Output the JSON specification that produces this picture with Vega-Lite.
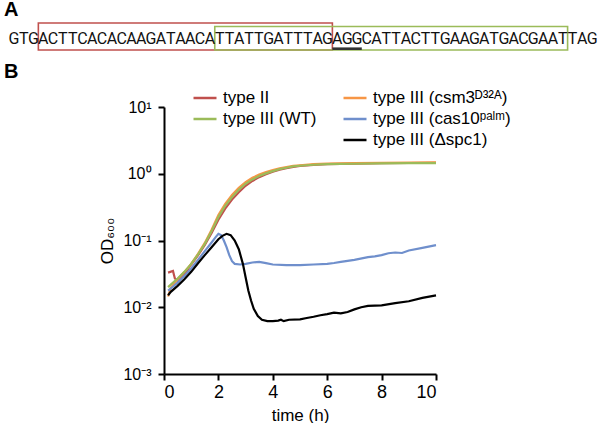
{
  "$schema": "https://vega.github.io/schema/vega-lite/v6.json",
  "background": "white",
  "padding": {"left": 4, "top": 0, "right": 0, "bottom": 0},
  "bounds": "flush",
  "spacing": 57,
  "resolve": {"scale": {"color": "independent"}, "legend": {"color": "independent"}},
  "config": {
    "view": {"stroke": null},
    "font": "Liberation Sans",
    "axis": {"domainColor": "black", "domainWidth": 2, "tickColor": "black", "tickWidth": 2, "tickSize": 6, "labelColor": "black", "labelFontSize": 17, "labelFont": "Liberation Sans", "titleFont": "Liberation Sans", "titleFontSize": 17, "titleFontWeight": "normal", "titleColor": "black", "grid": false, "labelPadding": 3}
  },
  "datasets": {
    "sequence": [
      {"i":0,"ch":"G"},{"i":1,"ch":"T"},{"i":2,"ch":"G"},{"i":3,"ch":"A"},{"i":4,"ch":"C"},{"i":5,"ch":"T"},{"i":6,"ch":"T"},{"i":7,"ch":"C"},{"i":8,"ch":"A"},{"i":9,"ch":"C"},
      {"i":10,"ch":"A"},{"i":11,"ch":"C"},{"i":12,"ch":"A"},{"i":13,"ch":"A"},{"i":14,"ch":"G"},{"i":15,"ch":"A"},{"i":16,"ch":"T"},{"i":17,"ch":"A"},{"i":18,"ch":"A"},{"i":19,"ch":"C"},
      {"i":20,"ch":"A"},{"i":21,"ch":"T"},{"i":22,"ch":"T"},{"i":23,"ch":"A"},{"i":24,"ch":"T"},{"i":25,"ch":"T"},{"i":26,"ch":"G"},{"i":27,"ch":"A"},{"i":28,"ch":"T"},{"i":29,"ch":"T"},
      {"i":30,"ch":"T"},{"i":31,"ch":"A"},{"i":32,"ch":"G"},{"i":33,"ch":"A"},{"i":34,"ch":"G"},{"i":35,"ch":"G"},{"i":36,"ch":"C"},{"i":37,"ch":"A"},{"i":38,"ch":"T"},{"i":39,"ch":"T"},
      {"i":40,"ch":"A"},{"i":41,"ch":"C"},{"i":42,"ch":"T"},{"i":43,"ch":"T"},{"i":44,"ch":"G"},{"i":45,"ch":"A"},{"i":46,"ch":"A"},{"i":47,"ch":"G"},{"i":48,"ch":"A"},{"i":49,"ch":"T"},
      {"i":50,"ch":"G"},{"i":51,"ch":"A"},{"i":52,"ch":"C"},{"i":53,"ch":"G"},{"i":54,"ch":"A"},{"i":55,"ch":"A"},{"i":56,"ch":"T"},{"i":57,"ch":"T"},{"i":58,"ch":"A"},{"i":59,"ch":"G"}
    ],
    "regions": [
      {"region": "type II protospacer", "start": 3, "end": 33},
      {"region": "type III protospacer", "start": 21, "end": 57}
    ],
    "pam": [{"region": "PAM", "start": 33, "end": 36}],
    "growth": [
      {"s":"type II","t":0.15,"od":0.033},{"s":"type II","t":0.33,"od":0.035},{"s":"type II","t":0.4,"od":0.027},{"s":"type II","t":0.5,"od":0.025},{"s":"type II","t":0.75,"od":0.031},{"s":"type II","t":1.0,"od":0.0437},{"s":"type II","t":1.25,"od":0.06},{"s":"type II","t":1.5,"od":0.086},{"s":"type II","t":1.75,"od":0.13},{"s":"type II","t":2.0,"od":0.205},{"s":"type II","t":2.25,"od":0.3},{"s":"type II","t":2.5,"od":0.41},{"s":"type II","t":2.75,"od":0.53},{"s":"type II","t":3.0,"od":0.66},{"s":"type II","t":3.25,"od":0.78},{"s":"type II","t":3.5,"od":0.89},{"s":"type II","t":3.75,"od":0.98},{"s":"type II","t":4.0,"od":1.07},{"s":"type II","t":4.25,"od":1.15},{"s":"type II","t":4.5,"od":1.21},{"s":"type II","t":4.75,"od":1.27},{"s":"type II","t":5.0,"od":1.31},{"s":"type II","t":5.5,"od":1.36},{"s":"type II","t":6,"od":1.39},{"s":"type II","t":7,"od":1.42},{"s":"type II","t":8,"od":1.44},{"s":"type II","t":9,"od":1.45},{"s":"type II","t":10,"od":1.46},
      {"s":"type III (csm3ᴰ³²ᴬ)","t":0.15,"od":0.0145},{"s":"type III (csm3ᴰ³²ᴬ)","t":0.25,"od":0.0195},{"s":"type III (csm3ᴰ³²ᴬ)","t":0.5,"od":0.0263},{"s":"type III (csm3ᴰ³²ᴬ)","t":0.75,"od":0.0339},{"s":"type III (csm3ᴰ³²ᴬ)","t":1.0,"od":0.0447},{"s":"type III (csm3ᴰ³²ᴬ)","t":1.25,"od":0.063},{"s":"type III (csm3ᴰ³²ᴬ)","t":1.5,"od":0.092},{"s":"type III (csm3ᴰ³²ᴬ)","t":1.75,"od":0.145},{"s":"type III (csm3ᴰ³²ᴬ)","t":2.0,"od":0.24},{"s":"type III (csm3ᴰ³²ᴬ)","t":2.25,"od":0.355},{"s":"type III (csm3ᴰ³²ᴬ)","t":2.5,"od":0.48},{"s":"type III (csm3ᴰ³²ᴬ)","t":2.75,"od":0.615},{"s":"type III (csm3ᴰ³²ᴬ)","t":3.0,"od":0.75},{"s":"type III (csm3ᴰ³²ᴬ)","t":3.25,"od":0.87},{"s":"type III (csm3ᴰ³²ᴬ)","t":3.5,"od":0.97},{"s":"type III (csm3ᴰ³²ᴬ)","t":3.75,"od":1.06},{"s":"type III (csm3ᴰ³²ᴬ)","t":4.0,"od":1.14},{"s":"type III (csm3ᴰ³²ᴬ)","t":4.25,"od":1.21},{"s":"type III (csm3ᴰ³²ᴬ)","t":4.5,"od":1.26},{"s":"type III (csm3ᴰ³²ᴬ)","t":4.75,"od":1.31},{"s":"type III (csm3ᴰ³²ᴬ)","t":5.0,"od":1.34},{"s":"type III (csm3ᴰ³²ᴬ)","t":5.5,"od":1.39},{"s":"type III (csm3ᴰ³²ᴬ)","t":6,"od":1.42},{"s":"type III (csm3ᴰ³²ᴬ)","t":7,"od":1.44},{"s":"type III (csm3ᴰ³²ᴬ)","t":8,"od":1.46},{"s":"type III (csm3ᴰ³²ᴬ)","t":9,"od":1.47},{"s":"type III (csm3ᴰ³²ᴬ)","t":10,"od":1.48},
      {"s":"type III (WT)","t":0.15,"od":0.02},{"s":"type III (WT)","t":0.25,"od":0.0219},{"s":"type III (WT)","t":0.5,"od":0.0269},{"s":"type III (WT)","t":0.75,"od":0.0339},{"s":"type III (WT)","t":1.0,"od":0.0447},{"s":"type III (WT)","t":1.25,"od":0.0617},{"s":"type III (WT)","t":1.5,"od":0.0891},{"s":"type III (WT)","t":1.75,"od":0.138},{"s":"type III (WT)","t":2.0,"od":0.224},{"s":"type III (WT)","t":2.25,"od":0.331},{"s":"type III (WT)","t":2.5,"od":0.447},{"s":"type III (WT)","t":2.75,"od":0.575},{"s":"type III (WT)","t":3.0,"od":0.708},{"s":"type III (WT)","t":3.25,"od":0.822},{"s":"type III (WT)","t":3.5,"od":0.923},{"s":"type III (WT)","t":3.75,"od":1.012},{"s":"type III (WT)","t":4.0,"od":1.096},{"s":"type III (WT)","t":4.25,"od":1.175},{"s":"type III (WT)","t":4.5,"od":1.23},{"s":"type III (WT)","t":4.75,"od":1.288},{"s":"type III (WT)","t":5.0,"od":1.318},{"s":"type III (WT)","t":5.5,"od":1.365},{"s":"type III (WT)","t":6,"od":1.396},{"s":"type III (WT)","t":7,"od":1.413},{"s":"type III (WT)","t":8,"od":1.429},{"s":"type III (WT)","t":9,"od":1.445},{"s":"type III (WT)","t":10,"od":1.445},
      {"s":"type III (cas10ᵖᵃˡᵐ)","t":0.15,"od":0.0178},{"s":"type III (cas10ᵖᵃˡᵐ)","t":0.25,"od":0.0191},{"s":"type III (cas10ᵖᵃˡᵐ)","t":0.5,"od":0.0234},{"s":"type III (cas10ᵖᵃˡᵐ)","t":0.75,"od":0.0295},{"s":"type III (cas10ᵖᵃˡᵐ)","t":1.0,"od":0.038},{"s":"type III (cas10ᵖᵃˡᵐ)","t":1.25,"od":0.0513},{"s":"type III (cas10ᵖᵃˡᵐ)","t":1.5,"od":0.0692},{"s":"type III (cas10ᵖᵃˡᵐ)","t":1.75,"od":0.0933},{"s":"type III (cas10ᵖᵃˡᵐ)","t":1.9,"od":0.1122},{"s":"type III (cas10ᵖᵃˡᵐ)","t":2.0,"od":0.1259},{"s":"type III (cas10ᵖᵃˡᵐ)","t":2.1,"od":0.1202},{"s":"type III (cas10ᵖᵃˡᵐ)","t":2.2,"od":0.1},{"s":"type III (cas10ᵖᵃˡᵐ)","t":2.3,"od":0.0794},{"s":"type III (cas10ᵖᵃˡᵐ)","t":2.4,"od":0.0603},{"s":"type III (cas10ᵖᵃˡᵐ)","t":2.5,"od":0.049},{"s":"type III (cas10ᵖᵃˡᵐ)","t":2.6,"od":0.0447},{"s":"type III (cas10ᵖᵃˡᵐ)","t":2.8,"od":0.0437},{"s":"type III (cas10ᵖᵃˡᵐ)","t":3.0,"od":0.0447},{"s":"type III (cas10ᵖᵃˡᵐ)","t":3.25,"od":0.0468},{"s":"type III (cas10ᵖᵃˡᵐ)","t":3.5,"od":0.0479},{"s":"type III (cas10ᵖᵃˡᵐ)","t":3.75,"od":0.0457},{"s":"type III (cas10ᵖᵃˡᵐ)","t":4.0,"od":0.0437},{"s":"type III (cas10ᵖᵃˡᵐ)","t":4.5,"od":0.0427},{"s":"type III (cas10ᵖᵃˡᵐ)","t":5.0,"od":0.0427},{"s":"type III (cas10ᵖᵃˡᵐ)","t":5.5,"od":0.0437},{"s":"type III (cas10ᵖᵃˡᵐ)","t":6.0,"od":0.0447},{"s":"type III (cas10ᵖᵃˡᵐ)","t":6.25,"od":0.046},{"s":"type III (cas10ᵖᵃˡᵐ)","t":6.5,"od":0.0479},{"s":"type III (cas10ᵖᵃˡᵐ)","t":7.0,"od":0.0513},{"s":"type III (cas10ᵖᵃˡᵐ)","t":7.5,"od":0.0562},{"s":"type III (cas10ᵖᵃˡᵐ)","t":7.75,"od":0.058},{"s":"type III (cas10ᵖᵃˡᵐ)","t":8.0,"od":0.0603},{"s":"type III (cas10ᵖᵃˡᵐ)","t":8.25,"od":0.0645},{"s":"type III (cas10ᵖᵃˡᵐ)","t":8.5,"od":0.0661},{"s":"type III (cas10ᵖᵃˡᵐ)","t":8.75,"od":0.065},{"s":"type III (cas10ᵖᵃˡᵐ)","t":9.0,"od":0.0708},{"s":"type III (cas10ᵖᵃˡᵐ)","t":9.5,"od":0.0776},{"s":"type III (cas10ᵖᵃˡᵐ)","t":10,"od":0.0851},
      {"s":"type III (Δspc1)","t":0.15,"od":0.0151},{"s":"type III (Δspc1)","t":0.25,"od":0.017},{"s":"type III (Δspc1)","t":0.5,"od":0.0209},{"s":"type III (Δspc1)","t":0.75,"od":0.0263},{"s":"type III (Δspc1)","t":1.0,"od":0.0339},{"s":"type III (Δspc1)","t":1.25,"od":0.0457},{"s":"type III (Δspc1)","t":1.5,"od":0.0603},{"s":"type III (Δspc1)","t":1.75,"od":0.0794},{"s":"type III (Δspc1)","t":2.0,"od":0.1047},{"s":"type III (Δspc1)","t":2.15,"od":0.1175},{"s":"type III (Δspc1)","t":2.3,"od":0.1259},{"s":"type III (Δspc1)","t":2.45,"od":0.1202},{"s":"type III (Δspc1)","t":2.6,"od":0.1},{"s":"type III (Δspc1)","t":2.75,"od":0.074},{"s":"type III (Δspc1)","t":2.9,"od":0.0447},{"s":"type III (Δspc1)","t":3.0,"od":0.0282},{"s":"type III (Δspc1)","t":3.1,"od":0.0178},{"s":"type III (Δspc1)","t":3.2,"od":0.0126},{"s":"type III (Δspc1)","t":3.3,"od":0.0095},{"s":"type III (Δspc1)","t":3.45,"od":0.0074},{"s":"type III (Δspc1)","t":3.6,"od":0.0065},{"s":"type III (Δspc1)","t":3.8,"od":0.0062},{"s":"type III (Δspc1)","t":4.0,"od":0.0062},{"s":"type III (Δspc1)","t":4.2,"od":0.0063},{"s":"type III (Δspc1)","t":4.3,"od":0.0065},{"s":"type III (Δspc1)","t":4.4,"od":0.0062},{"s":"type III (Δspc1)","t":4.6,"od":0.0065},{"s":"type III (Δspc1)","t":5.0,"od":0.0066},{"s":"type III (Δspc1)","t":5.25,"od":0.0069},{"s":"type III (Δspc1)","t":5.5,"od":0.0072},{"s":"type III (Δspc1)","t":5.75,"od":0.0076},{"s":"type III (Δspc1)","t":6.0,"od":0.0079},{"s":"type III (Δspc1)","t":6.25,"od":0.0083},{"s":"type III (Δspc1)","t":6.5,"od":0.0081},{"s":"type III (Δspc1)","t":6.75,"od":0.0085},{"s":"type III (Δspc1)","t":7.0,"od":0.0093},{"s":"type III (Δspc1)","t":7.25,"od":0.01},{"s":"type III (Δspc1)","t":7.5,"od":0.0105},{"s":"type III (Δspc1)","t":8.0,"od":0.0107},{"s":"type III (Δspc1)","t":8.5,"od":0.0115},{"s":"type III (Δspc1)","t":9.0,"od":0.0123},{"s":"type III (Δspc1)","t":9.5,"od":0.0138},{"s":"type III (Δspc1)","t":10,"od":0.0151}
    ]
  },
  "vconcat": [
    {
      "width": 433,
      "height": 27,
      "title": {"text": "A", "anchor": "start", "frame": "group", "dx": -160, "dy": 22, "offset": 8, "baseline": "alphabetic", "fontSize": 20, "fontWeight": "bold", "font": "Liberation Sans", "color": "black"},
      "layer": [
        {
          "data": {"name": "regions"},
          "transform": [{"filter": "datum.region == 'type II protospacer'"}],
          "mark": {"type": "rect", "filled": false, "color": "#c0504d", "strokeWidth": 1.6},
          "encoding": {
            "x": {"field": "start", "type": "quantitative", "scale": {"domain": [15.82, 60], "nice": false, "zero": false}, "axis": null},
            "x2": {"field": "end"}
          }
        },
        {
          "data": {"name": "regions"},
          "transform": [{"filter": "datum.region == 'type III protospacer'"}],
          "mark": {"type": "rect", "filled": false, "color": "#9bbb59", "strokeWidth": 1.6, "yOffset": 3.5, "y2Offset": 1.5},
          "encoding": {
            "x": {"field": "start", "type": "quantitative", "scale": {"domain": [15.82, 60], "nice": false, "zero": false}, "axis": null},
            "x2": {"field": "end"}
          }
        },
        {
          "data": {"name": "pam"},
          "mark": {"type": "rect", "color": "#333333", "yOffset": 24.4, "y2Offset": -1.8},
          "encoding": {
            "x": {"field": "start", "type": "quantitative", "scale": {"domain": [15.82, 60], "nice": false, "zero": false}, "axis": null},
            "x2": {"field": "end"}
          }
        },
        {
          "data": {"name": "sequence"},
          "mark": {"type": "text", "font": "'Liberation Sans Narrow', Roboto", "fontSize": 16, "dx": 4.9, "dy": 2, "color": "#111111"},
          "encoding": {
            "x": {"field": "i", "type": "quantitative", "scale": {"domain": [15.82, 60], "nice": false, "zero": false}, "axis": null},
            "text": {"field": "ch"}
          }
        }
      ]
    },
    {
      "width": 272,
      "height": 267,
      "title": {"text": "B", "anchor": "start", "frame": "group", "dx": -160, "dy": 22, "offset": 9, "baseline": "alphabetic", "fontSize": 20, "fontWeight": "bold", "font": "Liberation Sans", "color": "black"},
      "data": {"name": "growth"},
      "mark": {"type": "line", "strokeWidth": 2.2},
      "encoding": {
        "x": {"field": "t", "type": "quantitative", "scale": {"domain": [0, 10], "nice": false}, "axis": {"values": [0, 2, 4, 6, 8, 10], "title": "time (h)", "titlePadding": 6, "labelFontSize": 18}},
        "y": {"field": "od", "type": "quantitative", "scale": {"type": "log", "domain": [0.001, 10], "nice": false}, "axis": {"values": [0.001, 0.01, 0.1, 1, 10], "labelExpr": "datum.value >= 5 ? '10¹' : datum.value >= 0.5 ? '10⁰' : datum.value >= 0.05 ? '10⁻¹' : datum.value >= 0.005 ? '10⁻²' : '10⁻³'", "title": "OD₆₀₀", "titlePadding": 6, "labelFontSize": 16, "labelPadding": 7}},
        "color": {
          "field": "s", "type": "nominal",
          "scale": {"domain": ["type II", "type III (WT)", " ", "type III (csm3ᴰ³²ᴬ)", "type III (cas10ᵖᵃˡᵐ)", "type III (Δspc1)"], "range": ["#c0504d", "#9bbb59", "white", "#f79646", "#6f8fcc", "#000000"]},
          "legend": {"orient": "none", "legendX": 28, "legendY": -22, "columns": 2, "title": null, "symbolType": "stroke", "symbolSize": 529, "symbolStrokeWidth": 2.5, "labelFontSize": 17, "labelFont": "Liberation Sans", "labelColor": "black", "labelOffset": 5, "columnPadding": 21, "rowPadding": -3}
        }
      }
    }
  ]
}
